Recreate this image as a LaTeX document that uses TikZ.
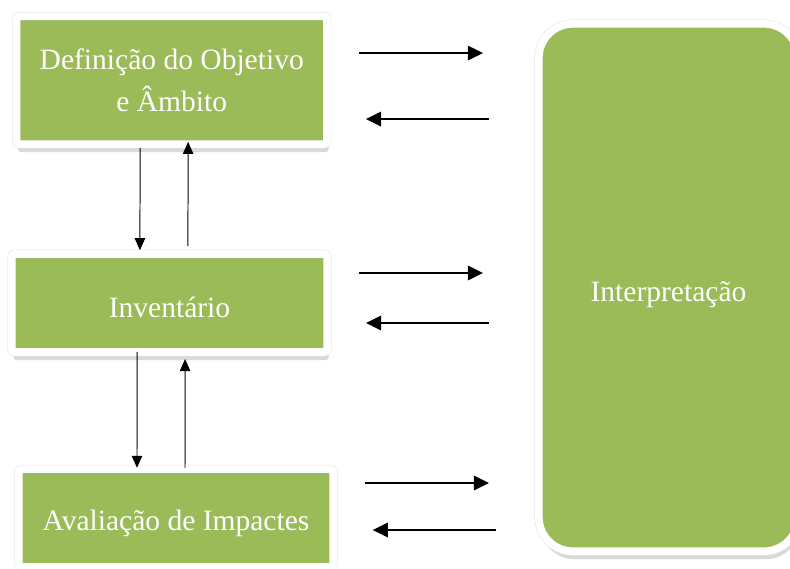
\documentclass[tikz,border=0pt]{standalone}
\usepackage{fontspec}
\setmainfont{Liberation Serif}
\usepackage{xcolor}
\definecolor{stagegreen}{HTML}{9BBB59}
\usetikzlibrary{arrows.meta, positioning, calc, shadows}

\begin{document}
\begin{tikzpicture}[x=0.025cm, y=-0.025cm,
    stage/.style={draw=white, line width=0.19cm, fill=stagegreen, text=white, align=center,
        font=\fontsize{21}{30}\selectfont, rounded corners=2pt,
        drop shadow={opacity=0.3, shadow xshift=0.04cm, shadow yshift=-0.2cm},
        preaction={draw=black!10, line width=0.22cm}},
    hline/.style={line width=1.4pt, -{Triangle[length=0.38cm, width=0.36cm]}},
    vline/.style={line width=0.7pt, -{Triangle[length=0.3cm, width=0.26cm]}}]
    \useasboundingbox (0,0) rectangle (790,568);

    % --- STAGES (Left) ---
    \node (defin) [stage, minimum width=7.76cm, minimum height=3.19cm] at (171.75,80.25) {Definição do Objetivo\\e Âmbito};
    \node (invent) [stage, minimum width=7.88cm, minimum height=2.45cm, text height=0.72cm] at (169.5,303) {Inventário};
    \node (aval) [stage, minimum width=7.86cm, minimum height=2.44cm, text height=0.8cm] at (176,518) {Avaliação de Impactes};

    % --- INTERPRETATION (Right) ---
    \node (interp) [stage, rounded corners=0.85cm, minimum width=6.48cm, minimum height=13.18cm, text height=0.85cm] at (668.5,287.5) {Interpretação};

    % Arrows between stages
    \draw[vline] ([xshift=-0.79cm]defin.south) -- ([xshift=-0.74cm]invent.north);
    \draw[vline] ([xshift=0.46cm, yshift=0.1cm]invent.north) -- ([xshift=0.41cm, yshift=0.15cm]defin.south);
    \draw[vline] ([xshift=-0.81cm, yshift=0.1cm]invent.south) -- ([xshift=-0.975cm, yshift=-0.06cm]aval.north);
    \draw[vline] ([xshift=0.225cm, yshift=-0.06cm]aval.north) -- ([xshift=0.39cm, yshift=-0.08cm]invent.south);

    % Arrows to and from interpretation
    \draw[hline, shorten <=0.7cm, shorten >=1.3cm] ([yshift=0.68cm]defin.east) -- ([yshift=0.68cm]defin.east -| interp.west);
    \draw[hline, shorten <=1.15cm, shorten >=0.875cm] ([yshift=-0.97cm]defin.east -| interp.west) -- ([yshift=-0.97cm]defin.east);
    \draw[hline, shorten <=0.7cm, shorten >=1.3cm] ([yshift=0.75cm]invent.east) -- ([yshift=0.75cm]invent.east -| interp.west);
    \draw[hline, shorten <=1.15cm, shorten >=0.875cm] ([yshift=-0.5cm]invent.east -| interp.west) -- ([yshift=-0.5cm]invent.east);
    \draw[hline, shorten <=0.71cm, shorten >=1.15cm] ([yshift=0.875cm]aval.east) -- ([yshift=0.875cm]aval.east -| interp.west);
    \draw[hline, shorten <=0.975cm, shorten >=0.89cm] ([yshift=-0.3cm]aval.east -| interp.west) -- ([yshift=-0.3cm]aval.east);

\end{tikzpicture}
\end{document}
